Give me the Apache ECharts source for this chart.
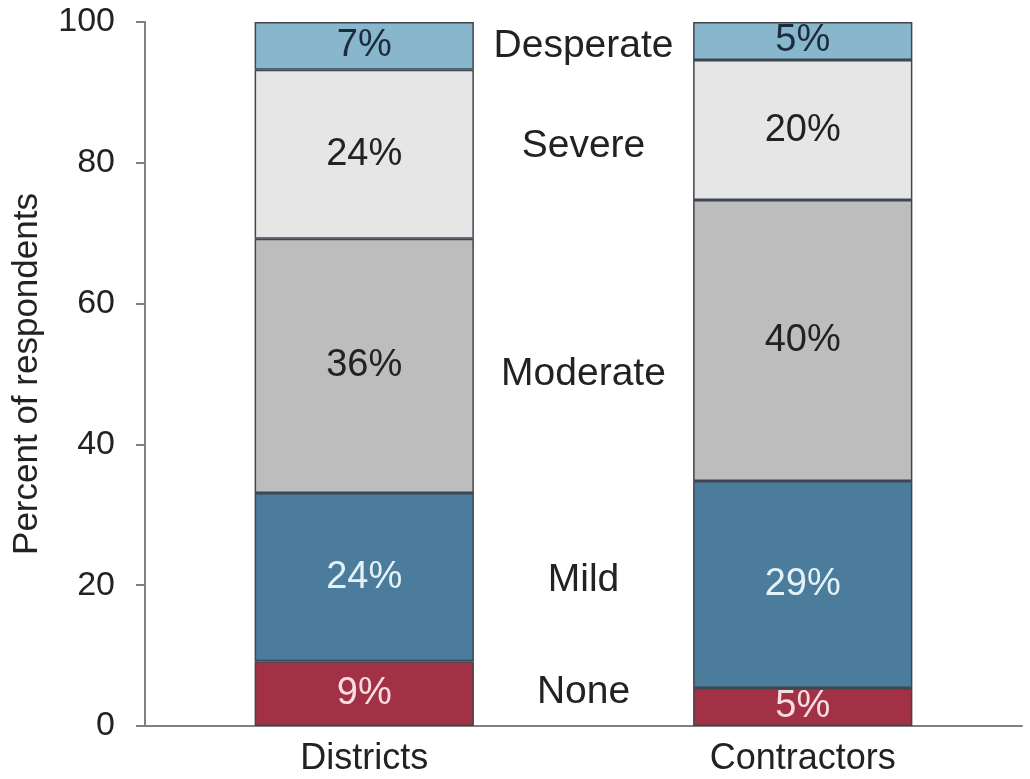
<!DOCTYPE html>
<html>
<head>
<meta charset="utf-8">
<script src="https://cdn.jsdelivr.net/npm/echarts@6/dist/echarts.min.js"></script>
<style>html,body{margin:0;padding:0;background:#fff;}#c{width:1030px;height:779px;}</style>
</head>
<body>
<div id="c"></div>
<script>
const categories = ['Districts', 'Contractors'];
const levels = ['None', 'Mild', 'Moderate', 'Severe', 'Desperate'];
const noneVals = [9.2, 5.4];
const mildVals = [23.9, 29.4];
const moderateVals = [36.1, 39.9];
const severeVals = [24.0, 19.9];
const desperateVals = [6.8, 5.4];
const levelLabelY = [4.8, 20.7, 50.0, 82.4, 96.6];
const yTicks = [0, 20, 40, 60, 80, 100];

const seriesData = [noneVals, mildVals, moderateVals, severeVals, desperateVals];
const fills = ['#a23145', '#4b7c9b', '#bdbdbd', '#e6e6e6', '#88b6cd'];
const textColors = ['#f8dde2', '#e4f2f8', '#222222', '#222222', '#1c2c3c'];
const FONT = 'Liberation Sans, Arial, sans-serif';

const chart = echarts.init(document.getElementById('c'), null, {renderer: 'canvas'});
const option = {
  animation: false,
  grid: {left: 145, right: 8, top: 22, bottom: 53, containLabel: false},
  xAxis: {
    type: 'category',
    data: categories,
    axisLine: {lineStyle: {color: '#808080', width: 2}},
    axisTick: {show: false},
    axisLabel: {fontFamily: FONT, fontSize: 36, color: '#222', margin: 15}
  },
  yAxis: {
    type: 'value',
    min: 0, max: 100, interval: 20,
    name: 'Percent of respondents',
    nameLocation: 'middle',
    nameGap: 100,
    nameRotate: 90,
    nameTextStyle: {fontFamily: FONT, fontSize: 35, color: '#222'},
    splitLine: {show: false},
    axisLine: {show: true, lineStyle: {color: '#808080', width: 2}},
    axisTick: {show: true, length: 9, lineStyle: {color: '#808080', width: 2}},
    axisLabel: {fontFamily: FONT, fontSize: 34, color: '#222', margin: 30,
      formatter: v => yTicks.includes(v) ? String(v) : ''}
  },
  series: levels.map((lv, i) => ({
    name: lv,
    type: 'bar',
    stack: 'total',
    barWidth: '50%',
    data: seriesData[i],
    itemStyle: {color: fills[i], borderColor: '#3e4650', borderWidth: 1.5},
    label: {
      show: true, position: 'inside',
      fontFamily: FONT, fontSize: 38, color: textColors[i],
      formatter: p => Math.round(p.value) + '%'
    }
  }))
};
chart.setOption(option);

const x0 = chart.convertToPixel({xAxisIndex: 0}, 0);
const x1 = chart.convertToPixel({xAxisIndex: 0}, 1);
const midX = (x0 + x1) / 2;
chart.setOption({
  graphic: levels.map((lv, i) => ({
    type: 'text',
    x: midX,
    y: chart.convertToPixel({yAxisIndex: 0}, levelLabelY[i]),
    style: {text: lv, fontFamily: FONT, fontSize: 39, fill: '#222', align: 'center', verticalAlign: 'middle'}
  }))
});
</script>
</body>
</html>
